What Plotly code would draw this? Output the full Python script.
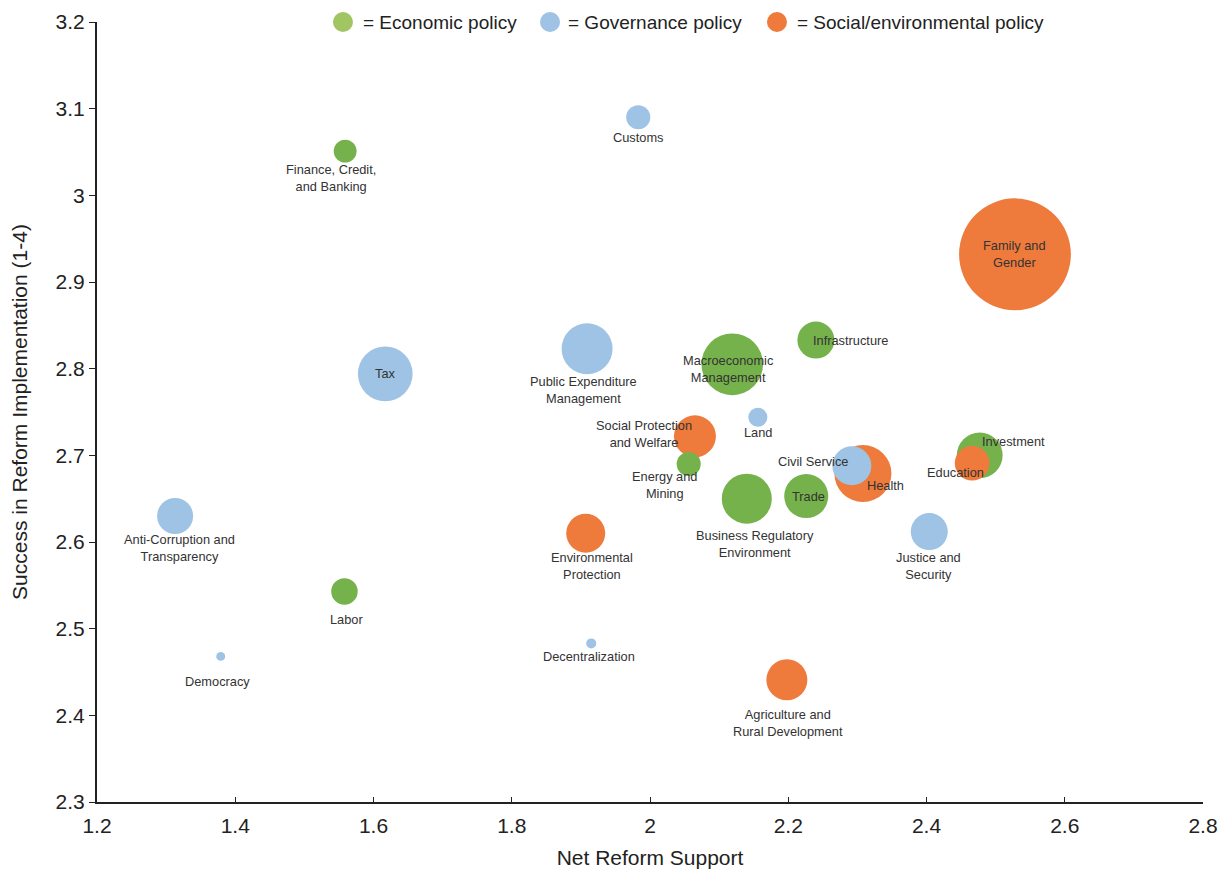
import plotly.graph_objects as go

# reform areas, drawn in this order (later points sit on top)
policies = [
    "Finance, Credit,<br>and Banking", "Customs", "Family and<br>Gender", "Infrastructure",
    "Macroeconomic<br>Management", "Public Expenditure<br>Management", "Tax",
    "Social Protection<br>and Welfare", "Land", "Energy and<br>Mining",
    "Business Regulatory<br>Environment", "Trade", "Health", "Civil Service", "Investment",
    "Education", "Justice and<br>Security", "Environmental<br>Protection",
    "Anti-Corruption and<br>Transparency", "Labor", "Democracy", "Decentralization",
    "Agriculture and<br>Rural Development",
]
category = [
    "econ", "gov", "soc", "econ",
    "econ", "gov", "gov",
    "soc", "gov", "econ",
    "econ", "econ", "soc", "gov", "econ",
    "soc", "gov", "soc",
    "gov", "econ", "gov", "gov",
    "soc",
]
net_support = [
    1.559, 1.983, 2.528, 2.240,
    2.119, 1.909, 1.617,
    2.065, 2.156, 2.056,
    2.140, 2.226, 2.308, 2.292, 2.477,
    2.466, 2.404, 1.907,
    1.313, 1.558, 1.379, 1.915,
    2.198,
]
success = [
    3.051, 3.090, 2.932, 2.833,
    2.805, 2.823, 2.794,
    2.722, 2.744, 2.690,
    2.650, 2.653, 2.679, 2.688, 2.700,
    2.691, 2.612, 2.610,
    2.630, 2.543, 2.468, 2.483,
    2.441,
]
# bubble weight (area)
weight = [
    5.2, 5.8, 125, 13.7,
    38, 26, 30,
    17.6, 3.6, 5.8,
    25, 19.4, 32.5, 15.2, 21,
    12, 13.7, 15.2,
    13, 7.0, 0.8, 1.0,
    16.8,
]

legend_keys = ["econ", "gov", "soc"]
legend_names = {"econ": "= Economic policy", "gov": "= Governance policy",
                "soc": "= Social/environmental policy"}
colors = {"econ": "#76b24c", "gov": "#9ec3e4", "soc": "#ee7a3b"}
legend_colors = {"econ": "#a2c563", "gov": "#9ec3e4", "soc": "#ee7a3b"}
# legend item positions along the top edge (paper x of circle, paper x of text start)
legend_pos = {"econ": (0.2224, 0.2387), "gov": (0.4096, 0.4241), "soc": (0.6148, 0.6311)}

# label offsets in pixels (dx, dy with dy downward)
label_off = {
    "Finance, Credit,<br>and Banking": (-14, 27), "Customs": (0, 20),
    "Family and<br>Gender": (0, 0), "Infrastructure": (35, 0),
    "Macroeconomic<br>Management": (-4, 5), "Public Expenditure<br>Management": (-4, 41),
    "Tax": (0, 0), "Social Protection<br>and Welfare": (-51, -2), "Land": (0, 15),
    "Energy and<br>Mining": (-24, 21), "Business Regulatory<br>Environment": (8, 45),
    "Trade": (2, 0), "Health": (23, 12), "Civil Service": (-39, -4),
    "Investment": (34, -14), "Education": (-17, 9), "Justice and<br>Security": (-1, 34),
    "Environmental<br>Protection": (6, 33), "Anti-Corruption and<br>Transparency": (4, 32),
    "Labor": (2, 28), "Democracy": (-3, 25), "Decentralization": (-2, 13),
    "Agriculture and<br>Rural Development": (1, 43),
}

fig = go.Figure()
fig.add_trace(go.Scatter(
    x=net_support, y=success, mode="markers", showlegend=False,
    marker=dict(size=weight, sizemode="area", sizeref=0.02,
                color=[colors[c] for c in category], opacity=1, line=dict(width=0)),
    hoverinfo="skip"))

for name, xv, yv in zip(policies, net_support, success):
    dx, dy = label_off[name]
    fig.add_annotation(x=xv, y=yv, text=name, showarrow=False, xshift=dx, yshift=-dy,
                       font=dict(size=12.8, color="#333333", family="Liberation Sans"))

# legend drawn along the top of the plot
for key in legend_keys:
    cx, tx = legend_pos[key]
    fig.add_shape(type="circle", xref="paper", yref="paper", xsizemode="pixel",
                  ysizemode="pixel", xanchor=cx, yanchor=1.0, x0=-10, x1=10, y0=-10, y1=10,
                  fillcolor=legend_colors[key], line=dict(width=0), layer="above")
    fig.add_annotation(xref="paper", yref="paper", x=tx, y=1.0, xanchor="left",
                       yanchor="middle", text=legend_names[key], showarrow=False,
                       font=dict(size=19, color="#222222", family="Liberation Sans"))

fig.update_layout(
    width=1218, height=863,
    margin=dict(l=89, r=23, t=14, b=69),
    paper_bgcolor="white", plot_bgcolor="white",
    font=dict(family="Liberation Sans", color="#222222"),
    showlegend=False,
    xaxis=dict(range=[1.2, 2.8], dtick=0.2, tick0=1.2, showgrid=False, zeroline=False,
               automargin=False,
               showline=True, linecolor="#222222", linewidth=2, ticks="inside", ticklen=5,
               tickcolor="#222222", tickfont=dict(size=21), ticklabelstandoff=4,
               title=dict(text="Net Reform Support", font=dict(size=21), standoff=14)),
    yaxis=dict(range=[2.3, 3.2], dtick=0.1, tick0=2.3, showgrid=False, zeroline=False,
               automargin=False,
               showline=True, linecolor="#222222", linewidth=2, ticks="outside", ticklen=6,
               tickcolor="#222222", tickfont=dict(size=21),
               title=dict(text="Success in Reform Implementation (1-4)", font=dict(size=21),
                          standoff=26)),
)

fig.write_html("out.html")
